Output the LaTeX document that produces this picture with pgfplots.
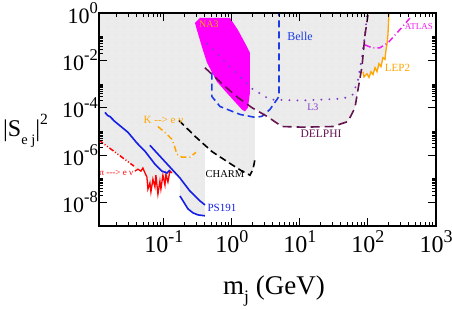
\documentclass[border=0pt]{standalone}
\usepackage{fontspec}
\setmainfont{Liberation Serif}
\usepackage{graphicx}
\usepackage{pgfplots}
\pgfplotsset{compat=1.18}
\usetikzlibrary{patterns}
\pgfdeclarepatternformonly{greydots}{\pgfpoint{-1pt}{-1pt}}{\pgfpoint{1pt}{1pt}}{\pgfpoint{8pt}{8pt}}{\pgfpathcircle{\pgfpoint{0pt}{0pt}}{0.7pt}\pgfusepath{fill}}
\definecolor{belleblue}{RGB}{30,60,230}
\definecolor{psblue}{RGB}{20,30,230}
\definecolor{lthree}{RGB}{130,60,200}
\definecolor{delphi}{RGB}{100,20,80}
\definecolor{lep}{RGB}{255,165,0}
\definecolor{shade}{RGB}{235,235,235}
\definecolor{atlas}{RGB}{240,30,240}
\definecolor{na}{RGB}{255,0,255}
\newcommand{\pw}[1]{10\raisebox{0.45em}{\scalebox{0.75}{#1}}}
\newcommand{\fs}[1]{\fontsize{#1}{#1}\selectfont}
\begin{document}
\begin{tikzpicture}
\path[use as bounding box] (-99pt,-83pt) rectangle (353pt,226pt);
\begin{axis}[
  at={(0pt,0pt)}, anchor=south west,
  scale only axis, width=337pt, height=213pt,
  xmode=log, ymode=log,
  xmin=0.0111, xmax=1000, ymin=1e-9, ymax=1,
  axis on top, no markers,
  axis line style={line width=1.4pt},
  tick align=inside,
  major tick length=8pt, minor tick length=4pt,
  every tick/.style={line width=1pt, black},
  xtick={0.1,1,10,100,1000},
  xticklabels={\pw{-1},\pw{0},\pw{1},\pw{2},\pw{3}},
  minor xtick={0.02,0.03,0.04,0.05,0.06,0.07,0.08,0.09,0.2,0.3,0.4,0.5,0.6,0.7,0.8,0.9,2,3,4,5,6,7,8,9,20,30,40,50,60,70,80,90,200,300,400,500,600,700,800,900},
  ytick={1e-8,1e-6,1e-4,1e-2,1},
  yticklabels={\pw{-8},\pw{-6},\pw{-4},\pw{-2},\pw{0}},
  minor ytick={2e-8,3e-8,4e-8,5e-8,6e-8,7e-8,8e-8,9e-8,1e-7,2e-6,3e-6,4e-6,5e-6,6e-6,7e-6,8e-6,9e-6,1e-5,2e-4,3e-4,4e-4,5e-4,6e-4,7e-4,8e-4,9e-4,1e-3,2e-2,3e-2,4e-2,5e-2,6e-2,7e-2,8e-2,9e-2,1e-1},
  yticklabel style={font=\fs{22}, inner sep=1pt},
  xticklabel style={font=\fs{24}, inner sep=1pt, yshift=-3pt},
]
% excluded region
\addplot[fill=shade, draw=none, postaction={pattern=greydots, pattern color=white}] coordinates {
(0.0111,1) (203.5,1) (196.6,0.12) (190,0.045) (184,0.028) (177.8,0.011) (166.2,0.013)
(155.3,5.4e-3) (145.1,7.2e-3) (135.6,3.3e-3) (126.8,4.9e-3) (118.5,2.5e-3) (110.7,3.3e-3)
(103.5,1.9e-3) (96.6,2.7e-3) (87.3,2.0e-3) (84.3,3.3e-3) (79,3e-3) (71.3,5.8e-4) (64.4,1.0e-4)
(50.8,2.6e-5) (30.5,1.6e-5) (11.1,1.5e-5) (5.43,1.6e-5) (3.27,4.3e-5) (2.18,8.4e-5)
(2.18,6.6e-7) (2.04,2.5e-7) (1.84,1.4e-7) (1.40,2.1e-7) (0.873,5.0e-7) (0.508,1.4e-6)
(0.401,2.6e-6) (0.401,2.7e-9) (0.316,2.95e-9) (0.267,3.6e-9) (0.2255,5.3e-9) (0.172,1.86e-8)
(0.172,1.07e-7) (0.131,1.74e-7) (0.1225,2.09e-7) (0.1145,7.2e-8) (0.107,1.55e-7) (0.1035,5.4e-8)
(0.0966,1.41e-7) (0.0903,3.6e-8) (0.0873,7.9e-8) (0.0816,2.2e-8) (0.0762,1.41e-7) (0.0737,4.5e-8)
(0.0689,9.5e-8) (0.0644,2.75e-8) (0.0622,6.6e-8) (0.0582,3.6e-8) (0.0562,1.17e-7) (0.0526,1.74e-7)
(0.0491,2.82e-7) (0.0459,2.09e-7) (0.0415,2.51e-7) (0.0375,2.09e-7) (0.0362,3.4e-7) (0.0111,4.2e-6)
} -- cycle;
% NA3
\addplot[fill=na, draw=none] coordinates {
(0.286,0.38) (0.338,0.62) (0.935,0.62) (1.22,0.195) (1.55,0.055) (1.84,0.021) (1.84,4.4e-4)
(1.72,1.0e-4) (1.55,6.9e-5) (1.40,8.4e-5) (0.935,3.0e-4) (0.60,1.26e-3) (0.43,7.9e-3)
(0.362,0.037) (0.306,0.19)
} -- cycle;
% pi -> e nu
\addplot[red, line width=1.5pt, dash pattern=on 5pt off 2pt on 1pt off 2pt on 1pt off 2pt] coordinates {
(0.0111,4.2e-6) (0.0362,3.4e-7)};
\addplot[red, line width=1.3pt] coordinates {
(0.0375,2.09e-7) (0.0415,2.51e-7) (0.0459,2.09e-7) (0.0491,2.82e-7) (0.0526,1.74e-7) (0.0562,1.17e-7)
(0.0582,3.6e-8) (0.0622,6.6e-8) (0.0644,2.75e-8) (0.0689,9.5e-8) (0.0737,4.5e-8) (0.0762,1.41e-7)
(0.0816,2.2e-8) (0.0873,7.9e-8) (0.0903,3.6e-8) (0.0966,1.41e-7) (0.1035,5.4e-8) (0.107,1.55e-7)
(0.1145,7.2e-8) (0.1225,2.09e-7) (0.131,1.74e-7)};
% PS191
\addplot[psblue, line width=1.6pt] coordinates {
(0.01355,6.3e-5) (0.0150,4.6e-5) (0.0161,4.2e-5) (0.019,2.6e-5) (0.0296,9.1e-6) (0.0401,3.2e-6)
(0.0526,1.45e-6) (0.0738,4.1e-7) (0.0935,2.09e-7) (0.1107,1.74e-7) (0.1225,2.3e-7)};
\addplot[psblue, line width=1.6pt] coordinates {
(0.0622,2.57e-6) (0.0873,8.9e-7) (0.1225,3.1e-7) (0.172,1.07e-7) (0.241,3.0e-8) (0.338,1.15e-8) (0.401,7.8e-9)};
\addplot[psblue, line width=1.6pt] coordinates {
(0.172,1.86e-8) (0.2255,5.3e-9) (0.267,3.6e-9) (0.316,2.95e-9) (0.401,2.7e-9)};
% K -> e nu
\addplot[lep, line width=1.5pt, dash pattern=on 6pt off 3pt on 1pt off 3pt] coordinates {
(0.0816,1.6e-5) (0.107,8.3e-6) (0.131,4.6e-6) (0.145,2.1e-6) (0.155,1.08e-6) (0.184,8.1e-7) (0.241,8.1e-7) (0.296,1.3e-6)};
% CHARM
\addplot[black, line width=1.6pt, dash pattern=on 7pt off 4pt] coordinates {
(0.166,2.9e-5) (0.286,6.2e-6) (0.508,1.4e-6) (0.873,5.0e-7) (1.40,2.1e-7) (1.84,1.4e-7) (2.04,2.5e-7) (2.18,6.6e-7)};
% Belle
\addplot[belleblue, line width=1.6pt, dash pattern=on 7pt off 4pt] coordinates {
(0.508,3.0e-3) (0.508,2.95e-4) (0.667,1.12e-4) (1.31,5.2e-5) (2.18,3.9e-5) (2.76,4.3e-5) (3.62,8.4e-5) (4.91,2.95e-4) (4.91,1)};
% L3
\addplot[lthree, line width=2.2pt, line cap=round, dash pattern=on 0pt off 8pt] coordinates {
(0.43,0.050) (0.935,5.4e-3) (1.97,6.4e-4) (3.62,2.2e-4) (10,2.0e-4) (42.9,2.4e-4) (60,3.6e-4) (71.3,1.5e-3) (81.6,0.014) (90.4,0.12) (96.6,0.83)};
% DELPHI
\addplot[delphi, line width=1.6pt, dash pattern=on 9pt off 5pt] coordinates {
(0.40,4.9e-3) (0.74,9.4e-4) (1.22,2.7e-4) (1.97,1.0e-4) (3.27,4.3e-5) (5.43,1.6e-5) (11.1,1.5e-5) (30.5,1.6e-5) (50.8,2.6e-5) (64.4,1.0e-4) (71.3,5.8e-4) (81.6,5.4e-3) (90.4,0.12) (100,0.83)};
% LEP2
\addplot[lep, line width=1.3pt] coordinates {
(84.3,3.3e-3) (87.3,2.0e-3) (96.6,2.7e-3) (103.5,1.9e-3) (110.7,3.3e-3) (118.5,2.5e-3) (126.8,4.9e-3) (135.6,3.3e-3) (145.1,7.2e-3) (155.3,5.4e-3) (166.2,0.013) (177.8,0.011) (184,0.028) (190,0.045) (196.6,0.12) (203.5,1)};
% ATLAS
\addplot[atlas, line width=1.5pt, dash pattern=on 6pt off 3pt on 1pt off 3pt] coordinates {
(90.4,0.045) (114.5,0.034) (150,0.034) (197,0.055) (258,0.13) (338,0.31) (415,0.62)};
% labels
\node[lep, font=\fs{10}] at (axis cs:0.459,0.35) {NA3};
\node[belleblue, font=\fs{12}, anchor=west] at (axis cs:5.8,0.098) {Belle};
\node[lthree, font=\fs{10}] at (axis cs:15.5,1.07e-4) {L3};
\node[delphi, font=\fs{11.5}] at (axis cs:20.4,8.3e-6) {DELPHI};
\node[lep, font=\fs{11}] at (axis cs:271.6,4.9e-3) {LEP2};
\node[atlas, font=\fs{9}] at (axis cs:562,0.271) {ATLAS};
\node[lep, font=\fs{11}] at (axis cs:0.0984,2.9e-5) {K -{}-> e ν};
\node[red, font=\fs{9}] at (axis cs:0.02,1.73e-7) {π -{}-{}-> e ν};
\node[black, font=\fs{10.5}] at (axis cs:0.789,1.55e-7) {CHARM};
\node[psblue, font=\fs{11}] at (axis cs:0.713,6.1e-9) {PS191};
\end{axis}
\node[anchor=base west, font=\fs{24}, inner sep=0pt] at (-96pt,90pt) {|S\raisebox{-0.35em}{\scalebox{0.6}{e j}}|\raisebox{0.5em}{\scalebox{0.65}{2}}};
\node[anchor=base, font=\fs{27}] at (175pt,-68pt) {m\raisebox{-0.3em}{\scalebox{0.65}{j}} (GeV)};
\end{tikzpicture}
\end{document}
